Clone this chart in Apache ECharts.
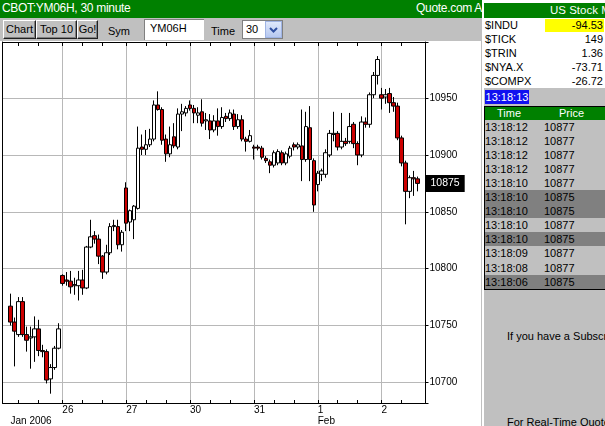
<!DOCTYPE html>
<html><head><meta charset="utf-8"><title>CBOT:YM06H, 30 minute</title>
<script src="https://cdn.jsdelivr.net/npm/echarts@6/dist/echarts.min.js"></script>
<style>
html,body{margin:0;padding:0;}
body{width:605px;height:426px;overflow:hidden;position:relative;background:#c0c0c0;font-family:"Liberation Sans",Arial,sans-serif;font-size:11px;color:#000;}
.a{position:absolute;box-sizing:border-box;white-space:nowrap;}
.btn{top:20px;height:19px;background:#c0c0c0;border:1px solid;border-color:#ffffff #202020 #202020 #ffffff;box-shadow:inset -1px -1px 0 #808080;text-align:center;line-height:17px;font-size:11px;}
.row{left:0;width:121px;height:14px;line-height:14px;}
</style></head><body>
<div class="a" style="left:0;top:0;width:482px;height:18px;background:#008000"></div>
<div class="a" style="left:2px;top:2px;color:#fff;font-size:12px;line-height:13px;letter-spacing:-0.3px">CBOT:YM06H, 30 minute</div>
<div class="a" style="left:416px;top:2px;color:#fff;font-size:12px;line-height:13px;letter-spacing:-0.3px">Quote.com A</div>

<div class="a btn" style="left:3px;width:33px">Chart</div>
<div class="a btn" style="left:36px;width:41px">Top 10</div>
<div class="a btn" style="left:77px;width:21px">Go!</div>
<div class="a" style="left:108px;top:25px;line-height:12px">Sym</div>
<div class="a" style="left:144px;top:19px;width:60px;height:21px;background:#fff;border-top:1px solid #808080;border-left:1px solid #808080;padding:3px 0 0 5px;line-height:11px">YM06H</div>
<div class="a" style="left:211px;top:25px;line-height:12px">Time</div>
<div class="a" style="left:242px;top:20px;width:41px;height:19px;background:#fff;border:1px solid #808080;padding:3px 0 0 3px;line-height:11px">30</div>
<div class="a" style="left:265px;top:21px;width:17px;height:17px;background:linear-gradient(#dfe8fb,#b6c8f0);border:1px solid #9fb4e4">
<svg width="15" height="15" style="position:absolute;left:0;top:0"><polyline points="4,6 7.5,9.5 11,6" fill="none" stroke="#3050a0" stroke-width="2"/></svg></div>

<div id="chart" class="a" style="left:0;top:41px;width:481px;height:385px;background:#fff"></div>
<div class="a" style="left:482px;top:0;width:2px;height:426px;background:#fff"></div>

<div class="a" id="rp" style="left:484px;top:0;width:121px;height:426px;overflow:hidden">
  <div class="a" style="left:0;top:0;width:121px;height:3px;background:#fff"></div>
  <div class="a" style="left:0;top:3px;width:121px;height:15px;background:#008000"></div>
  <div class="a" style="left:66px;top:4px;color:#fff;font-size:11.5px;line-height:13px">US Stock M</div>
  <div class="a" id="quotes" style="left:0;top:18px;width:121px;height:70px;background:#fff"></div>
  <div class="a" id="clock" style="left:1px;top:90px;width:44px;height:14px;background:#1010f0;color:#fff;line-height:14px;text-align:center"></div>
  <div class="a" style="left:0;top:106px;width:125px;height:184px;border:1px solid #000">
    <div class="a" style="left:0;top:0;width:124px;height:13px;background:#008000;color:#fff;line-height:13px">
      <span class="a" style="left:12px;top:0">Time</span><span class="a" style="left:74px;top:0">Price</span>
    </div>
    <div class="a" id="trades" style="left:0;top:13px;width:124px;height:169px"></div>
  </div>
  <div class="a" style="left:23px;top:330px;line-height:12px">If you have a Subscri</div>
  <div class="a" style="left:23px;top:416px;line-height:12px">For Real-Time Quote</div>
</div>

<script>
// ---- data ----
const days = ['25', '26', '27', '30', '31', '1', '2'];
const barsPerDay = [13, 16, 16, 16, 16, 16, 10];
const monthLabels = ['Jan 2006', '', '', '', '', 'Feb', ''];
const opens = [10767,10753,10742,10771,10742,10739,10740,10747,10728,10727,10703,10713,10730,
  10794,10790,10789,10785,10785,10790,10783,10819,10829,10826,10811,10797,10814,10837,10837,10821,
  10871,10841,10843,10853,10907,10905,10909,10914,10944,10940,10914,10901,10916,10907,10936,10937,
  10944,10941,10935,10938,10930,10930,10922,10930,10925,10934,10932,10936,10925,10931,10914,10912,
  10907,10907,10906,10897,10894,10891,10893,10902,10893,10899,10909,10907,10908,10896,10924,10895,
  10874,10883,10883,10900,10918,10919,10907,10912,10912,10927,10910,10900,10929,10927,10953,10970,
  10953,10951,10954,10946,10943,10915,10893,10868,10880,10879];
const closes = [10753,10745,10771,10742,10737,10740,10747,10728,10727,10702,10713,10730,10747,
  10787,10789,10784,10786,10790,10783,10819,10828,10826,10811,10797,10814,10837,10838,10821,10832,
  10840,10851,10855,10906,10905,10909,10914,10944,10940,10913,10901,10909,10908,10936,10938,10941,
  10941,10937,10937,10928,10931,10922,10930,10925,10933,10932,10937,10925,10931,10914,10912,10917,
  10906,10906,10898,10895,10891,10902,10903,10893,10901,10906,10907,10909,10896,10925,10896,10856,
  10884,10886,10902,10919,10919,10907,10912,10910,10925,10910,10900,10929,10927,10953,10970,10984,
  10950,10953,10946,10943,10915,10893,10868,10880,10879,10875];
const lows = [10750,10714,10740,10740,10727,10712,10718,10723,10722,10699,10690,10711,10729,
  10785,10785,10778,10777,10772,10777,10782,10818,10822,10804,10791,10795,10812,10833,10817,10815,
  10833,10833,10826,10852,10900,10900,10907,10912,10939,10909,10894,10898,10906,10905,10921,10934,
  10939,10928,10928,10925,10922,10914,10920,10917,10923,10929,10930,10922,10923,10912,10903,10911,
  10896,10904,10896,10893,10884,10889,10891,10891,10891,10897,10904,10905,10877,10894,10877,10850,
  10868,10877,10880,10898,10912,10904,10905,10908,10910,10906,10891,10898,10924,10924,10950,10962,
  10940,10945,10937,10938,10913,10890,10839,10862,10864,10868];
const highs = [10778,10757,10775,10775,10749,10749,10758,10755,10733,10729,10716,10732,10752,
  10795,10797,10798,10792,10798,10799,10820,10843,10833,10830,10812,10821,10840,10843,10843,10834,
  10876,10852,10856,10925,10918,10922,10923,10948,10956,10942,10918,10925,10928,10941,10945,10943,
  10948,10944,10942,10949,10937,10936,10935,10941,10942,10937,10940,10940,10936,10935,10916,10922,
  10909,10909,10908,10899,10896,10904,10905,10904,10903,10908,10911,10911,10940,10938,10943,10897,
  10886,10888,10905,10922,10938,10921,10937,10915,10937,10929,10912,10934,10933,10955,10973,10987,
  10959,10958,10959,10951,10946,10917,10895,10882,10886,10881];
const lastPrice = 10875;
const priceMin = 10681.8;
const priceMax = 10999.4;
const quoteSyms = ['$INDU', '$TICK', '$TRIN', '$NYA.X', '$COMPX'];
const quoteVals = ['-94.53', '149', '1.36', '-73.71', '-26.72'];
const clockText = '13:18:13';
const tradeTimes = ['13:18:12','13:18:12','13:18:12','13:18:12','13:18:10','13:18:10','13:18:10','13:18:10','13:18:10','13:18:09','13:18:08','13:18:06'];
const tradePrices = ['10877','10877','10877','10877','10877','10875','10875','10877','10875','10877','10877','10875'];

// ---- side panel ----
const qEl = document.getElementById('quotes');
quoteSyms.forEach((s, i) => {
  const r = document.createElement('div');
  r.className = 'a row';
  r.style.top = (i * 14) + 'px';
  if (i === 0) {
    const y = document.createElement('div');
    y.className = 'a';
    y.style.cssText = 'left:61px;top:1px;width:59px;height:13px;background:#ffff00';
    r.appendChild(y);
  }
  const l = document.createElement('span'); l.className = 'a'; l.style.left = '1px'; l.textContent = s;
  const v = document.createElement('span'); v.className = 'a'; v.style.right = '2px'; v.textContent = quoteVals[i];
  r.appendChild(l); r.appendChild(v); qEl.appendChild(r);
});
document.getElementById('clock').textContent = clockText;
const tEl = document.getElementById('trades');
tradeTimes.forEach((t, i) => {
  const r = document.createElement('div');
  r.className = 'a row';
  r.style.cssText += ';width:124px;top:' + (i * 14.05) + 'px;background:' + (tradePrices[i] === String(lastPrice) ? '#808080' : '#c0c0c0');
  const a = document.createElement('span'); a.className = 'a'; a.style.left = '0px'; a.textContent = t;
  const b = document.createElement('span'); b.className = 'a'; b.style.left = '59px'; b.textContent = tradePrices[i];
  r.appendChild(a); r.appendChild(b); tEl.appendChild(r);
});

// ---- chart ----
const cats = ['pad-a', 'pad-b'];
const candles = [['-','-','-','-'], ['-','-','-','-']];
const labelAt = {};
const dayStart = new Set();
const topTicks = new Set();
let b = 0;
days.forEach((d, di) => {
  const n = barsPerDay[di];
  const firstOffset = di === 0 ? 16 - n : 0;
  for (let k = 0; k < n; k++) {
    const idx = cats.length;
    const off = firstOffset + k;
    cats.push(d + '#' + off);
    candles.push([opens[b], closes[b], lows[b], highs[b]]);
    if (off === 0 || off === 5 || off === 10) topTicks.add(idx);
    if (di === 0 && k === 0) labelAt[idx] = '\n' + monthLabels[0];
    if (di > 0 && off === 0) {
      dayStart.add(idx);
      labelAt[idx] = d + (monthLabels[di] ? '\n' + monthLabels[di] : '');
    }
    b++;
  }
});
cats.push('pad-c', 'pad-d');
candles.push(['-','-','-','-'], ['-','-','-','-']);

const chart = echarts.init(document.getElementById('chart'), null, { renderer: 'canvas' });
const gridColor = '#b8b8b8';
chart.setOption({
  animation: false,
  textStyle: { fontFamily: 'Liberation Sans, Arial, sans-serif' },
  grid: { left: 2.5, top: 1, width: 423, height: 362, containLabel: false },
  xAxis: [
    {
      type: 'category', data: cats, boundaryGap: false, position: 'bottom',
      axisLine: { show: true, lineStyle: { color: '#000', width: 1 } },
      axisTick: { show: true, inside: true, length: 3, interval: (i) => topTicks.has(i), lineStyle: { color: '#000' } },
      axisLabel: {
        show: true, interval: (i) => labelAt[i] !== undefined,
        formatter: (v, i) => labelAt[i] || '',
        align: 'left', verticalAlign: 'top', margin: 2, fontSize: 10, lineHeight: 10.5, color: '#000'
      },
      splitLine: { show: true, interval: (i) => dayStart.has(i), lineStyle: { color: gridColor, width: 1 } }
    },
    {
      type: 'category', data: cats, boundaryGap: false, position: 'top',
      axisLine: { show: true, lineStyle: { color: '#000', width: 1 } },
      axisTick: { show: true, inside: true, length: 4, interval: (i) => topTicks.has(i), lineStyle: { color: '#000' } },
      axisLabel: { show: false }, splitLine: { show: false }
    }
  ],
  yAxis: [
    {
      type: 'value', position: 'right', min: priceMin, max: priceMax, splitNumber: 6,
      axisLine: { show: true, lineStyle: { color: '#000', width: 1 } },
      axisTick: { show: true, length: 3, lineStyle: { color: '#000' } },
      axisLabel: { show: true, margin: 4, fontSize: 10, color: '#000', formatter: (v) => (Math.abs(v % 50) < 1e-6 ? String(v) : '') },
      splitLine: { show: true, lineStyle: { color: gridColor, width: 1 } }
    },
    {
      type: 'value', position: 'left', min: priceMin, max: priceMax,
      axisLine: { show: true, onZero: false, lineStyle: { color: '#000', width: 1 } },
      axisTick: { show: false }, axisLabel: { show: false }, splitLine: { show: false }
    }
  ],
  series: [{
    type: 'candlestick', xAxisIndex: 0, yAxisIndex: 0, data: candles, barWidth: 4,
    itemStyle: { color: '#ffffff', color0: '#cc0000', borderColor: '#000000', borderColor0: '#000000', borderColorDoji: '#000000', borderWidth: 1 },
    markLine: {
      silent: true, symbol: ['none', 'none'], animation: false,
      lineStyle: { color: 'rgba(0,0,0,0)', width: 1, type: 'solid' },
      data: [{ yAxis: lastPrice }],
      label: { show: true, position: 'end', distance: 0, formatter: String(lastPrice), backgroundColor: '#000000', color: '#ffffff', fontSize: 10.5, padding: [3, 5, 3, 5] }
    }
  }]
});
</script>
</body></html>
